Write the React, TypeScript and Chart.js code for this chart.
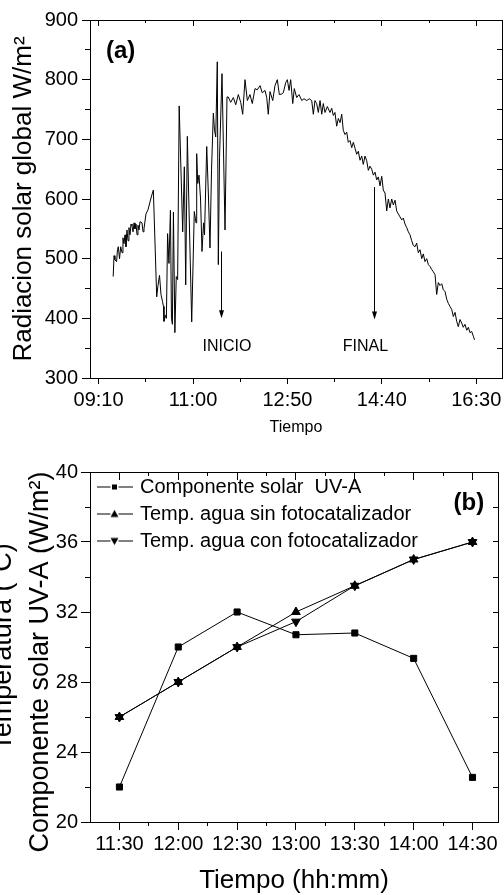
import React, { useEffect, useRef } from 'react';
import { Chart, registerables } from 'chart.js';

Chart.register(...registerables);

const FONT = "'Liberation Sans', Arial, Helvetica, sans-serif";
const toMin = (s: string) => { const [h, m] = s.split(':').map(Number); return h * 60 + m; };

// ---------------- Panel (a): solar radiation ----------------
const RAD_X_RANGE = ['09:00', '17:00'];
const RAD_X_MAJOR = ['09:10', '11:00', '12:50', '14:40', '16:30'];
const RAD_X_MINOR = ['10:05', '11:55', '13:45', '15:35'];
const RAD_Y_MAJOR = [300, 400, 500, 600, 700, 800, 900];
const RAD_Y_MINOR = [350, 450, 550, 650, 750, 850];

// time in minutes after midnight
const RAD_TIME = [
  567, 568, 569, 571, 572, 573, 574.4, 575.8, 577.3, 578.4, 579.6, 580.8, 581.9, 583.1, 584.3, 585.4,
  586.6, 587.8, 588.9, 590.1, 591.3, 592.4, 593.6, 594.8, 595.9, 597.1, 598.3, 600.6, 601.8, 602.9,
  605.2, 607.6, 609.9, 611.7, 613.8,
  617.7, 619.2, 621, 622.7, 624.5, 625.6, 626.2, 627.9, 629, 630.4, 632, 633.7, 634.9, 636, 637.2,
  638.9, 640.5, 642.1, 643.9, 648, 649.9, 651.5, 653.4, 655.4, 658.5, 661.5, 663.5, 664.3, 665.5,
  667, 668.8, 670.5, 672.3, 673.4, 676, 678.1, 679.8, 681.6, 683.7, 685.1, 686.5, 688.3, 689.5,
  690.9, 693.8, 697.3, 699.6,
  701.1, 703.9, 707, 709.8, 712.8, 715.6, 717.9, 720.6, 723.3, 726.4, 729.1, 732.2, 734.9, 738.1,
  740.7, 743.9, 745.9, 747.7, 749.7, 752.9, 755.5, 758.2, 760.6, 763.4, 765.2, 768, 769.9, 771.9,
  773.8, 776.2, 778, 780.8, 783.5, 786.7, 789.3, 792.5, 795.5, 798.3, 800.2, 802.1, 804.1, 806,
  808, 810, 811.8, 813.8, 816.5, 819.6, 821.6, 823.5, 825.4, 827.4, 829.3, 831.3, 833.3, 835.1,
  837.1, 839.1, 840.9, 842.9, 844.9, 846.8, 848.8, 850.7, 852.6, 854.6, 856.6, 858.4, 860.4, 862.4,
  864.3, 866.2, 868.2, 870.1, 872.1, 874, 875.9, 877.9, 879.9, 881.7, 883.7, 885.7, 887.6, 889.5,
  891.5, 893.4, 895.4, 897.3, 899.2, 901.2, 903.2, 905, 907, 909, 910.9, 912.8, 914.8, 916.7,
  918.7, 920.6, 922.5, 924.5, 926.5, 928.3, 930.3, 932.3, 934.2, 936.1, 938.1, 940, 942, 943.9,
  945.8, 947.8, 949.8, 951.6, 953.6, 955.6, 957.5, 959.4, 961.4, 963.3, 965.3, 967.2, 969.1, 971.1,
  973.1, 974.9, 976.9, 978.9, 980.8, 982.7, 984.7, 986.6, 988,
];
const RAD_VALUE = [
  470, 505, 498, 495, 515, 520, 500, 520, 510, 535, 525, 540, 520, 548, 530, 552,
  540, 558, 555, 545, 560, 550, 558, 540, 556, 548, 562, 560, 545, 550,
  575, 582, 595, 605, 615,
  436, 455, 472, 440, 428, 420, 395, 405, 400, 542, 492, 581, 400, 390, 578,
  376, 470, 465, 756, 545, 654, 456, 705, 580, 394, 579, 560, 676, 626,
  640, 600, 512, 560, 540, 688, 600, 518, 650, 744, 715, 704, 830, 490,
  670, 810, 548, 771,
  771, 762, 770, 758, 775, 762, 742, 800, 765, 775, 760, 785, 783, 790,
  778, 782, 770, 742, 780, 765, 790, 800, 775, 776, 778, 795, 800, 782,
  800, 760, 785, 770, 775, 765, 768, 765, 768, 765, 742, 765, 760, 745,
  765, 742, 760, 745, 755, 745, 752, 740, 745, 722, 735, 728, 742, 715,
  708, 712, 695, 698, 686, 695, 685, 675, 680, 665, 672, 658, 672, 664,
  648, 655, 650, 640, 645, 632, 637, 622, 638, 615, 610, 580, 600, 585,
  600, 590, 598, 580, 575, 570, 565, 568, 558, 552, 545, 540, 530, 522,
  520, 526, 510, 515, 500, 508, 495, 500, 490, 487, 482, 478, 473, 440,
  460, 455, 458, 448, 445, 432, 425, 420, 415, 403, 410, 395, 386, 398,
  392, 385, 390, 380, 385, 376, 378, 370, 364,
];

// arrows: time, value at tail, value at tip; label anchor
const MARK_LABELS = ['INICIO', 'FINAL'];
const MARK_TIME = [692.6, 871.2];
const MARK_FROM = [512, 620];
const MARK_TO = [400, 398];
const MARK_TEXT_TIME = [699.6, 860.8];
const MARK_TEXT_VALUE = [352, 352];
const PANEL_A_POS = [558.6, 848];

// ---------------- Panel (b): UV-A and water temperatures ----------------
const UV_X_RANGE = [675, 883];
const UV_TIMES = ['11:30', '12:00', '12:30', '13:00', '13:30', '14:00', '14:30'];
const UV_X_MINOR = ['11:45', '12:15', '12:45', '13:15', '13:45', '14:15'];
const UV_Y_MAJOR = [20, 24, 28, 32, 36, 40];
const UV_Y_MINOR = [22, 26, 30, 34, 38];
const UVA = [22.0, 30.0, 32.0, 30.7, 30.8, 29.35, 22.55];
const TEMP_SIN = [26, 28, 30, 32, 33.5, 35, 36];
const TEMP_CON = [26, 28, 30, 31.45, 33.5, 35, 36];
const SERIES_NAMES = ['Componente solar  UV-A', 'Temp. agua sin fotocatalizador', 'Temp. agua con fotocatalizador'];
const PANEL_B_POS = [860.3, 38.23];

type AxisOpts = {
  pos: 'top' | 'bottom' | 'left' | 'right';
  min: number; max: number; ticks: number[]; tl: number; size: number; weight?: number;
  labels?: string[]; font?: number; pad?: number; title?: any;
};

function axis(o: AxisOpts) {
  const horizontal = o.pos === 'top' || o.pos === 'bottom';
  return {
    type: 'linear',
    position: o.pos,
    min: o.min,
    max: o.max,
    weight: o.weight ?? 0,
    afterBuildTicks: (s: any) => { s.ticks = o.ticks.map((v) => ({ value: v })); },
    afterFit: (s: any) => {
      if (horizontal) s.height = o.size; else s.width = o.size;
      s.paddingLeft = 0; s.paddingRight = 0; s.paddingTop = 0; s.paddingBottom = 0;
    },
    grid: {
      display: true, drawOnChartArea: false, drawTicks: true, tickLength: o.tl,
      color: '#000', tickColor: '#000', lineWidth: 1, tickWidth: 1,
    },
    border: { display: true, color: '#000', width: 1 },
    ticks: o.labels
      ? {
          display: true, autoSkip: false, maxRotation: 0, minRotation: 0, padding: o.pad ?? 3,
          color: '#000', font: { family: FONT, size: o.font ?? 20 },
          callback: (_v: any, i: number) => o.labels![i],
        }
      : { display: false },
    title: o.title ?? { display: false },
  };
}

function legendIcon(kind: 'square' | 'up' | 'down') {
  const c = document.createElement('canvas');
  c.width = 39; c.height = 13;
  const g = c.getContext('2d')!;
  g.strokeStyle = '#000'; g.fillStyle = '#000'; g.lineWidth = 1;
  g.beginPath();
  g.moveTo(3, 6.5); g.lineTo(16.5, 6.5);
  g.moveTo(24.5, 6.5); g.lineTo(39, 6.5);
  g.stroke();
  g.beginPath();
  if (kind === 'square') {
    g.rect(18, 4, 5, 5);
  } else if (kind === 'up') {
    g.moveTo(20.5, 2.5); g.lineTo(24.5, 9.5); g.lineTo(16.5, 9.5); g.closePath();
  } else {
    g.moveTo(20.5, 10.5); g.lineTo(24.5, 3.5); g.lineTo(16.5, 3.5); g.closePath();
  }
  g.fill();
  return c;
}

export default function App() {
  const topRef = useRef<HTMLCanvasElement>(null);
  const botRef = useRef<HTMLCanvasElement>(null);

  useEffect(() => {
    Chart.defaults.font.family = FONT;
    Chart.defaults.color = '#000';
    const charts: Chart[] = [];

    // ---------- chart (a)
    const ax0 = toMin(RAD_X_RANGE[0]);
    const ax1 = toMin(RAD_X_RANGE[1]);
    const aMajor = RAD_X_MAJOR.map(toMin);
    const aMinor = RAD_X_MINOR.map(toMin);
    const ay0 = RAD_Y_MAJOR[0];
    const ay1 = RAD_Y_MAJOR[RAD_Y_MAJOR.length - 1];

    const annotA = {
      id: 'annotA',
      afterDatasetsDraw(chart: any) {
        const { ctx, scales } = chart;
        const x = scales.x, y = scales.y;
        ctx.save();
        ctx.strokeStyle = '#000';
        ctx.fillStyle = '#000';
        ctx.lineWidth = 1;
        for (let i = 0; i < MARK_LABELS.length; i++) {
          const px = Math.round(x.getPixelForValue(MARK_TIME[i])) + 0.5;
          const y1 = y.getPixelForValue(MARK_FROM[i]);
          const y2 = y.getPixelForValue(MARK_TO[i]);
          ctx.beginPath();
          ctx.moveTo(px, y1);
          ctx.lineTo(px, y2 - 6);
          ctx.stroke();
          ctx.beginPath();
          ctx.moveTo(px, y2);
          ctx.lineTo(px - 2.5, y2 - 8);
          ctx.lineTo(px + 2.5, y2 - 8);
          ctx.closePath();
          ctx.fill();
          ctx.font = `16px ${FONT}`;
          ctx.textAlign = 'center';
          ctx.textBaseline = 'middle';
          ctx.fillText(MARK_LABELS[i], x.getPixelForValue(MARK_TEXT_TIME[i]), y.getPixelForValue(MARK_TEXT_VALUE[i]));
        }
        ctx.font = `bold 24px ${FONT}`;
        ctx.textAlign = 'left';
        ctx.textBaseline = 'middle';
        ctx.fillText('(a)', x.getPixelForValue(PANEL_A_POS[0]), y.getPixelForValue(PANEL_A_POS[1]));
        ctx.restore();
      },
    };

    charts.push(
      new Chart(topRef.current!, {
        type: 'line',
        data: {
          datasets: [
            {
              data: RAD_TIME.map((t, i) => ({ x: t, y: RAD_VALUE[i] })),
              borderColor: '#000', borderWidth: 1, pointRadius: 0, fill: false, tension: 0,
              xAxisID: 'x', yAxisID: 'y',
            },
          ],
        },
        options: {
          responsive: false, animation: false, devicePixelRatio: 1, events: [],
          layout: { padding: { top: 20, right: 2, bottom: 0, left: 0 } },
          plugins: { legend: { display: false }, tooltip: { enabled: false } },
          scales: {
            x: axis({
              pos: 'bottom', min: ax0, max: ax1, ticks: aMajor, tl: 6, size: 62, weight: 1,
              labels: RAD_X_MAJOR, font: 20, pad: 4,
              title: { display: true, text: 'Tiempo', color: '#000', font: { family: FONT, size: 16, lineHeight: 1 }, padding: { top: 0, bottom: 4.5 } },
            }),
            xMinor: axis({ pos: 'bottom', min: ax0, max: ax1, ticks: aMinor, tl: 4, size: 0, weight: 0 }),
            xTop: axis({ pos: 'top', min: ax0, max: ax1, ticks: aMajor, tl: -6, size: 0 }),
            xTopMinor: axis({ pos: 'top', min: ax0, max: ax1, ticks: aMinor, tl: -3, size: 0 }),
            y: axis({
              pos: 'left', min: ay0, max: ay1, ticks: RAD_Y_MAJOR, tl: 8, size: 90, weight: 1,
              labels: RAD_Y_MAJOR.map(String), font: 20, pad: 4,
              title: { display: true, text: 'Radiacion solar global W/m²', color: '#000', font: { family: FONT, size: 26, lineHeight: 1 }, padding: { top: 11, bottom: 0 } },
            }),
            yMinor: axis({ pos: 'left', min: ay0, max: ay1, ticks: RAD_Y_MINOR, tl: 5, size: 0, weight: 0 }),
            yRight: axis({ pos: 'right', min: ay0, max: ay1, ticks: [...RAD_Y_MAJOR, ...RAD_Y_MINOR], tl: -5, size: 0 }),
          } as any,
        },
        plugins: [annotA],
      } as any)
    );

    // ---------- chart (b)
    const bx0 = UV_X_RANGE[0];
    const bx1 = UV_X_RANGE[1];
    const bMajor = UV_TIMES.map(toMin);
    const bMinor = UV_X_MINOR.map(toMin);
    const by0 = UV_Y_MAJOR[0];
    const by1 = UV_Y_MAJOR[UV_Y_MAJOR.length - 1];
    const icons = [legendIcon('square'), legendIcon('up'), legendIcon('down')];

    const annotB = {
      id: 'annotB',
      afterDatasetsDraw(chart: any) {
        const { ctx, scales } = chart;
        ctx.save();
        ctx.fillStyle = '#000';
        ctx.font = `bold 24px ${FONT}`;
        ctx.textAlign = 'left';
        ctx.textBaseline = 'middle';
        ctx.fillText('(b)', scales.x.getPixelForValue(PANEL_B_POS[0]), scales.y.getPixelForValue(PANEL_B_POS[1]));
        ctx.restore();
      },
    };

    const series = [UVA, TEMP_SIN, TEMP_CON];
    const styles = [
      { pointStyle: 'rect', pointRadius: 4.3, rotation: 0 },
      { pointStyle: 'triangle', pointRadius: 5, rotation: 0 },
      { pointStyle: 'triangle', pointRadius: 5, rotation: 180 },
    ];

    charts.push(
      new Chart(botRef.current!, {
        type: 'line',
        data: {
          datasets: series.map((vals, k) => ({
            label: SERIES_NAMES[k],
            data: vals.map((v, i) => ({ x: bMajor[i], y: v })),
            borderColor: '#000', backgroundColor: '#000', borderWidth: 1,
            pointStyle: styles[k].pointStyle, pointRadius: styles[k].pointRadius,
            pointRotation: styles[k].rotation,
            pointBackgroundColor: '#000', pointBorderColor: '#000', pointBorderWidth: 1,
            fill: false, tension: 0, xAxisID: 'x', yAxisID: 'y',
          })),
        },
        options: {
          responsive: false, animation: false, devicePixelRatio: 1, events: [],
          layout: { padding: { top: 32, right: 1.5, bottom: 0, left: 0 } },
          plugins: {
            tooltip: { enabled: false },
            legend: {
              display: true, position: 'chartArea', align: 'start',
              // the in-chart legend box starts at the canvas top; an empty title pushes it to the plot top
              title: { display: true, text: ' ', font: { family: FONT, size: 10, lineHeight: 1 }, padding: { top: 10, bottom: 10 } },
              labels: {
                usePointStyle: true, pointStyleWidth: 33, padding: 7, color: '#000',
                font: { family: FONT, size: 20 },
                generateLabels: (chart: any) =>
                  chart.data.datasets.map((ds: any, i: number) => ({
                    text: ds.label, fillStyle: '#000', strokeStyle: '#000', lineWidth: 1,
                    hidden: false, datasetIndex: i, pointStyle: icons[i], fontColor: '#000',
                  })),
              },
            },
          },
          scales: {
            x: axis({
              pos: 'bottom', min: bx0, max: bx1, ticks: bMajor, tl: 8, size: 73, weight: 1,
              labels: UV_TIMES, font: 20, pad: 2,
              title: { display: true, text: 'Tiempo (hh:mm)', color: '#000', font: { family: FONT, size: 26, lineHeight: 1 }, padding: { top: 0, bottom: 1 } },
            }),
            xMinor: axis({ pos: 'bottom', min: bx0, max: bx1, ticks: bMinor, tl: 4, size: 0, weight: 0 }),
            xTop: axis({ pos: 'top', min: bx0, max: bx1, ticks: bMajor, tl: -8, size: 0 }),
            xTopMinor: axis({ pos: 'top', min: bx0, max: bx1, ticks: bMinor, tl: -4, size: 0 }),
            y: axis({
              pos: 'left', min: by0, max: by1, ticks: UV_Y_MAJOR, tl: 9, size: 90, weight: 1,
              labels: UV_Y_MAJOR.map(String), font: 20, pad: 3,
              title: {
                display: true,
                text: ['Temperatura (°C)', 'Componente solar UV-A (W/m²)    '],
                color: '#000',
                font: { family: FONT, size: 27, lineHeight: 1.36 },
                padding: { top: -14.4, bottom: 0 },
              },
            }),
            yMinor: axis({ pos: 'left', min: by0, max: by1, ticks: UV_Y_MINOR, tl: 5, size: 0, weight: 0 }),
            yRight: axis({ pos: 'right', min: by0, max: by1, ticks: [...UV_Y_MAJOR, ...UV_Y_MINOR], tl: -5, size: 0 }),
          } as any,
        },
        plugins: [annotB],
      } as any)
    );

    return () => charts.forEach((c) => c.destroy());
  }, []);

  return (
    <div style={{ position: 'absolute', left: 0, top: 0, width: 504, height: 895, background: '#fff', overflow: 'hidden' }}>
      <canvas ref={topRef} width={504} height={440} style={{ display: 'block', width: 504, height: 440 }} />
      <canvas ref={botRef} width={504} height={455} style={{ display: 'block', width: 504, height: 455 }} />
    </div>
  );
}
